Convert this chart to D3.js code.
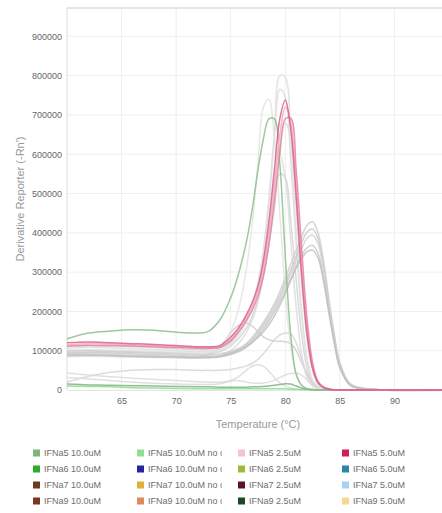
<!DOCTYPE html>
<html><head><meta charset="utf-8">
<script src="https://cdn.jsdelivr.net/npm/d3@7"></script>
<style>
body{margin:0;background:#fff;overflow:hidden}
svg{display:block}
text{font-family:"Liberation Sans",Arial,Helvetica,sans-serif}
</style>
</head><body><svg id="c" width="442" height="513"></svg>
<script>
// ---- data (values in thousands of -Rn') ----
const temps = [60, 62, 64, 66, 68, 70, 72, 73, 74, 75, 75.5, 76, 76.5, 77, 77.5, 78, 78.5, 79, 79.5, 80, 80.5, 81, 81.5, 82, 82.5, 83, 83.5, 84, 84.5, 85, 86, 88, 95];
const xTickValues = [65, 70, 75, 80, 85, 90];
const yTickValues = [0, 100000, 200000, 300000, 400000, 500000, 600000, 700000, 800000, 900000];

// highlighted wells
const ifna5_10 = [130, 145, 150, 153, 152, 147, 145, 150, 178, 235, 275, 325, 385, 465, 560, 640, 690, 690, 575, 340, 140, 40, 12, 3, 1, 0, 0, 0, 0, 0, 0, 0, 0];
const ifna5_10nc = [15, 13, 12, 11, 10, 9, 8, 8, 7, 7, 7, 7, 7, 8, 8, 9, 10, 12, 14, 16, 15, 10, 5, 2, 1, 0, 0, 0, 0, 0, 0, 0, 0];
const ifna5_10nc2 = [10, 9, 8, 6, 5, 4, 3, 3, 3, 3, 3, 3, 3, 3, 3, 3, 3, 3, 3, 3, 2, 2, 1, 1, 0, 0, 0, 0, 0, 0, 0, 0, 0];
const ifna5_25 = [115, 118, 117, 115, 113, 110, 108, 108, 110, 130, 145, 165, 188, 215, 252, 310, 400, 520, 650, 720, 680, 520, 320, 160, 60, 20, 7, 2, 0, 0, 0, 0, 0];
const ifna5_50a = [120, 122, 120, 118, 116, 113, 110, 110, 113, 135, 150, 170, 195, 225, 265, 330, 430, 560, 690, 738, 665, 490, 290, 140, 55, 18, 6, 2, 0, 0, 0, 0, 0];
const ifna5_50b = [112, 114, 113, 112, 110, 108, 106, 106, 108, 125, 140, 158, 180, 205, 240, 290, 370, 480, 600, 690, 692, 560, 360, 180, 70, 22, 8, 3, 0, 0, 0, 0, 0];

// other wells (shown grey)
const grey1 = [100, 102, 101, 100, 98, 96, 95, 96, 100, 118, 132, 150, 175, 210, 260, 340, 470, 640, 800, 795, 630, 400, 200, 80, 25, 8, 3, 1, 0, 0, 0, 0, 0];
const grey2 = [105, 108, 107, 105, 103, 100, 98, 99, 103, 122, 138, 158, 185, 220, 275, 360, 490, 650, 765, 745, 580, 370, 190, 75, 25, 8, 3, 1, 0, 0, 0, 0, 0];
const grey3 = [95, 97, 96, 95, 93, 92, 92, 95, 110, 150, 185, 240, 320, 430, 580, 720, 740, 640, 450, 250, 110, 40, 12, 4, 1, 0, 0, 0, 0, 0, 0, 0, 0];
const grey4 = [100, 101, 100, 98, 96, 94, 92, 93, 97, 112, 125, 140, 160, 190, 230, 290, 370, 460, 550, 540, 430, 280, 140, 55, 18, 6, 2, 0, 0, 0, 0, 0, 0];
const grey5 = [110, 112, 111, 110, 108, 105, 103, 104, 108, 126, 140, 160, 185, 215, 255, 315, 400, 510, 620, 680, 640, 470, 280, 130, 50, 15, 5, 2, 0, 0, 0, 0, 0];
const grey6 = [85, 86, 85, 84, 83, 82, 81, 82, 86, 100, 112, 128, 150, 180, 225, 295, 400, 530, 600, 540, 380, 210, 90, 30, 10, 3, 1, 0, 0, 0, 0, 0, 0];
const grey7 = [100, 100, 98, 96, 94, 92, 90, 90, 92, 98, 103, 110, 120, 135, 152, 172, 195, 220, 250, 285, 320, 355, 390, 420, 428, 400, 330, 230, 140, 70, 15, 2, 0];
const grey8 = [95, 96, 94, 92, 90, 88, 86, 86, 88, 95, 100, 107, 117, 130, 147, 166, 188, 212, 240, 272, 305, 340, 375, 402, 410, 385, 318, 222, 135, 65, 13, 2, 0];
const grey9 = [92, 93, 91, 89, 87, 85, 84, 84, 86, 92, 97, 104, 113, 126, 142, 160, 181, 205, 232, 262, 295, 328, 360, 386, 394, 372, 305, 212, 128, 62, 12, 2, 0];
const grey10 = [88, 89, 88, 86, 84, 83, 82, 82, 84, 90, 95, 101, 110, 122, 137, 155, 175, 198, 224, 252, 283, 314, 343, 362, 368, 348, 286, 200, 120, 58, 11, 2, 0];
const grey11 = [90, 90, 88, 86, 85, 84, 83, 84, 86, 93, 98, 104, 112, 122, 134, 148, 166, 188, 215, 245, 278, 310, 335, 352, 356, 336, 278, 195, 118, 56, 11, 2, 0];
const grey12 = [85, 87, 86, 85, 84, 84, 86, 90, 110, 145, 160, 168, 170, 162, 148, 135, 128, 125, 124, 123, 118, 100, 70, 40, 20, 8, 3, 1, 0, 0, 0, 0, 0];
const grey13 = [20, 35, 45, 50, 52, 52, 50, 50, 50, 52, 55, 58, 62, 68, 78, 92, 110, 128, 140, 145, 143, 120, 80, 40, 15, 5, 2, 0, 0, 0, 0, 0, 0];
const grey14 = [43, 38, 34, 30, 27, 24, 21, 20, 20, 24, 30, 40, 52, 61, 64, 60, 48, 32, 18, 10, 5, 2, 1, 0, 0, 0, 0, 0, 0, 0, 0, 0, 0];
const grey15 = [32, 28, 24, 20, 17, 15, 14, 14, 16, 22, 24, 23, 20, 18, 17, 18, 20, 25, 32, 38, 42, 43, 38, 25, 12, 5, 2, 0, 0, 0, 0, 0, 0];

const legendLabels = [
  "IFNa5 10.0uM", "IFNa6 10.0uM", "IFNa7 10.0uM", "IFNa9 10.0uM",
  "IFNa5 10.0uM no control", "IFNa6 10.0uM no control", "IFNa7 10.0uM no control", "IFNa9 10.0uM no control",
  "IFNa5 2.5uM", "IFNa6 2.5uM", "IFNa7 2.5uM", "IFNa9 2.5uM",
  "IFNa5 5.0uM", "IFNa6 5.0uM", "IFNa7 5.0uM", "IFNa9 5.0uM"
];
const legendColors = [
  "#7fb47f", "#2eab2e", "#6b3a24", "#7d3424",
  "#90de90", "#2626a0", "#e2b332", "#df8a5c",
  "#f6c3d2", "#9bbb3a", "#5a1628", "#1c4a26",
  "#cf1f5a", "#2a86a3", "#a9d2f2", "#f4d98f"
];

// ---- build ----
const svg = d3.select("#c");
const x = d3.scaleLinear().domain([60, 95]).range([67, 449]);
const y = d3.scaleLinear().domain([0, 972000]).range([390, 8]);

// gridlines
const grid = svg.append("g");
grid.selectAll("line.v").data(xTickValues.concat([95])).join("line")
  .attr("x1", d => x(d)).attr("x2", d => x(d)).attr("y1", 8).attr("y2", 390)
  .attr("stroke", "#efefef").attr("stroke-width", 1);
grid.selectAll("line.h").data(yTickValues.slice(1)).join("line")
  .attr("x1", 67).attr("x2", 449).attr("y1", d => y(d)).attr("y2", d => y(d))
  .attr("stroke", "#efefef").attr("stroke-width", 1);
// frame
svg.append("line").attr("x1", 67).attr("x2", 449).attr("y1", 8).attr("y2", 8).attr("stroke", "#dcdcdc").attr("stroke-width", 1.5);
svg.append("line").attr("x1", 67).attr("x2", 67).attr("y1", 8).attr("y2", 390).attr("stroke", "#dcdcdc").attr("stroke-width", 1);

// axes
const xAxis = d3.axisBottom(x).tickValues(xTickValues).tickSize(0).tickPadding(8);
const gx = svg.append("g").attr("transform", "translate(0,390)").call(xAxis);
gx.select(".domain").attr("stroke", "#e4e4e4");
gx.selectAll("text").attr("font-size", 9).attr("fill", "#666").attr("font-family", "Liberation Sans, Arial, sans-serif");
const yAxis = d3.axisLeft(y).tickValues(yTickValues).tickSize(0).tickPadding(5).tickFormat(d3.format("d"));
const gy = svg.append("g").attr("transform", "translate(67,0)").call(yAxis);
gy.select(".domain").remove();
gy.selectAll("text").attr("font-size", 9).attr("fill", "#666").attr("font-family", "Liberation Sans, Arial, sans-serif");

svg.append("text").attr("x", 258).attr("y", 428).attr("text-anchor", "middle")
  .attr("font-size", 11).attr("fill", "#999").text("Temperature (°C)");
svg.append("text").attr("transform", "translate(24,199) rotate(-90)").attr("text-anchor", "middle")
  .attr("font-size", 11).attr("fill", "#999").text("Derivative Reporter (-Rn')");

// curves
svg.append("clipPath").attr("id", "plotclip").append("rect").attr("x", 67).attr("y", 8).attr("width", 382).attr("height", 384);
const line = d3.line().x((d, i) => x(temps[i])).y(d => y(d * 1000)).curve(d3.curveCatmullRom.alpha(0.5));
const plot = svg.append("g").attr("clip-path", "url(#plotclip)");

const greys = [grey13, grey14, grey15, grey12, grey6, grey4, grey3, grey5, grey2, grey1, grey7, grey8, grey9, grey10, grey11];
const greyColors = ["#d6d6d6", "#dadada", "#dadada", "#cdcdcd", "#dcdcdc", "#d4d4d4", "#e3e3e3", "#d5d5d5", "#dddddd", "#dfdfdf", "#cecece", "#cacaca", "#d2d2d2", "#c8c8c8", "#bfbfbf"];
plot.selectAll("path.grey").data(greys).join("path")
  .attr("d", line).attr("fill", "none")
  .attr("stroke", (d, i) => greyColors[i]).attr("stroke-width", 1.5).attr("stroke-opacity", 0.85);

const colored = [
  {v: ifna5_10nc2, c: legendColors[4], o: 0.9},
  {v: ifna5_10nc, c: legendColors[0], o: 0.85},
  {v: ifna5_10, c: "#8cc08c", o: 0.85},
  {v: ifna5_25, c: "#f2b0c4", o: 0.9},
  {v: ifna5_50b, c: "#e57a9a", o: 0.8},
  {v: ifna5_50a, c: "#dc5580", o: 0.8}
];
plot.selectAll("path.col").data(colored).join("path")
  .attr("d", d => line(d.v)).attr("fill", "none")
  .attr("stroke", d => d.c).attr("stroke-width", 1.5).attr("stroke-opacity", d => d.o);

// legend
const colX = [33, 137, 238, 342];
const rowY = [453, 469, 485, 501];
svg.append("clipPath").attr("id", "legclip").append("rect").attr("x", 0).attr("y", 440).attr("width", 222).attr("height", 73);
const leg = svg.append("g");
legendLabels.forEach((lab, i) => {
  const cx = colX[Math.floor(i / 4)], cy = rowY[i % 4];
  const g = leg.append("g");
  if (Math.floor(i / 4) === 1) g.attr("clip-path", "url(#legclip)");
  g.append("rect").attr("x", cx).attr("y", cy - 3.5).attr("width", 7).attr("height", 7).attr("fill", legendColors[i]);
  g.append("text").attr("x", cx + 11).attr("y", cy + 3).attr("font-size", 9).attr("fill", "#6e6e6e").text(lab);
});
</script>
</body></html>
